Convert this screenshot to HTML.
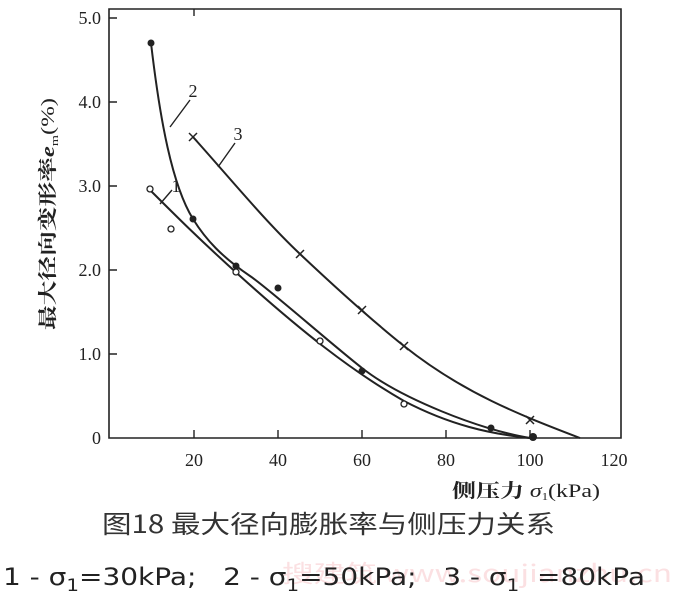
<!DOCTYPE html>
<html><head><meta charset="utf-8"><style>
body{margin:0;background:#fff;width:688px;height:600px;overflow:hidden;position:relative}
svg{position:absolute;left:0;top:0}
</style></head><body>
<svg width="688" height="600" viewBox="0 0 688 600">
<g fill="none" stroke="#222" stroke-width="2">
<path d="M109,9 H621 V438 H109 Z" stroke-width="1.6"/>
<path d="M109,18h8 M109,102h8 M109,186h8 M109,270h8 M109,354h8 M194,438v-8 M278,438v-8 M362,438v-8 M446,438v-8 M530,438v-8 M194,9v7" stroke-width="1.4"/>
<path d="M151,43 C160,120 172,185 193,219 C206,240 222,257 250,276 C268,288 330,343 362,368 C400,398 480,430 530,438"/>
<path d="M150,190 C175,215 200,240 240,276 C300,330 350,370 404,401 C450,425 490,434 530,438"/>
<path d="M193,137 C229,177 264,220 300,254 C335,287 369,318 404,346 C463,393 520,415 580,438"/>
<path d="M160,204 L172,190 M170,127 L190,100 M218,167 L235,143" stroke-width="1.4"/>
<path d="M189,133l8,8 M197,133l-8,8 M296,250l8,8 M304,250l-8,8 M358,306l8,8 M366,306l-8,8 M400,342l8,8 M408,342l-8,8 M526,416l8,8 M534,416l-8,8" stroke-width="1.5"/>
<g stroke-width="1.3" fill="#fff"><circle cx="150" cy="189" r="3"/><circle cx="171" cy="229" r="3"/><circle cx="236" cy="272" r="3"/><circle cx="320" cy="341" r="3"/><circle cx="404" cy="404" r="3"/></g>
</g>
<g fill="#222"><circle cx="151" cy="43" r="3.5"/><circle cx="193" cy="219" r="3.5"/><circle cx="236" cy="266" r="3.5"/><circle cx="278" cy="288" r="3.5"/><circle cx="362" cy="371" r="3.5"/><circle cx="491" cy="428" r="3.5"/><circle cx="533" cy="437" r="4"/></g>
<g font-family="Liberation Serif, serif" font-size="18" fill="#222" text-anchor="end">
<text x="101" y="24">5.0</text><text x="101" y="108">4.0</text><text x="101" y="192">3.0</text><text x="101" y="276">2.0</text><text x="101" y="360">1.0</text><text x="101" y="444">0</text>
</g>
<g font-family="Liberation Serif, serif" font-size="18" fill="#222" text-anchor="middle">
<text x="194" y="466">20</text><text x="278" y="466">40</text><text x="362" y="466">60</text><text x="446" y="466">80</text><text x="530" y="466">100</text><text x="614" y="466">120</text>
<text x="176" y="192">1</text><text x="193" y="97">2</text><text x="238" y="140">3</text>
</g>
<text transform="translate(54,330) rotate(-90)" textLength="232" lengthAdjust="spacingAndGlyphs" font-family="Liberation Serif, 'Noto Serif CJK SC', serif" font-size="19" font-weight="bold" fill="#222">最大径向变形率<tspan font-style="italic">e</tspan><tspan font-size="11" dy="4" font-weight="normal">m</tspan><tspan dy="-4" font-weight="normal">(%)</tspan></text>
<text x="452" y="497" textLength="148" lengthAdjust="spacingAndGlyphs" font-family="Liberation Serif, 'Noto Serif CJK SC', serif" font-size="19" fill="#222"><tspan font-weight="bold">侧压力</tspan> <tspan font-style="italic">σ</tspan><tspan font-size="10" dy="3">1</tspan><tspan dy="-3">(kPa)</tspan></text>
<text x="102" y="533" textLength="453" lengthAdjust="spacingAndGlyphs" font-family="'Noto Sans CJK SC', sans-serif" font-size="25" fill="#333">图18 最大径向膨胀率与侧压力关系</text>
<text x="282" y="582" textLength="390" lengthAdjust="spacingAndGlyphs" font-family="'Noto Sans CJK SC', sans-serif" font-size="24" fill="#fbe0e2">搜建筑 www.soujianzhu.cn</text>
<text x="3" y="585" textLength="642" lengthAdjust="spacingAndGlyphs" font-family="'DejaVu Sans', sans-serif" font-size="24" fill="#222" xml:space="preserve">1 - σ<tspan font-size="17" dy="6">1</tspan><tspan dy="-6">=30kPa;   2 - σ</tspan><tspan font-size="17" dy="6">1</tspan><tspan dy="-6">=50kPa;   3 - σ</tspan><tspan font-size="17" dy="6">1</tspan><tspan dy="-6">  =80kPa</tspan></text>
</svg>
</body></html>
